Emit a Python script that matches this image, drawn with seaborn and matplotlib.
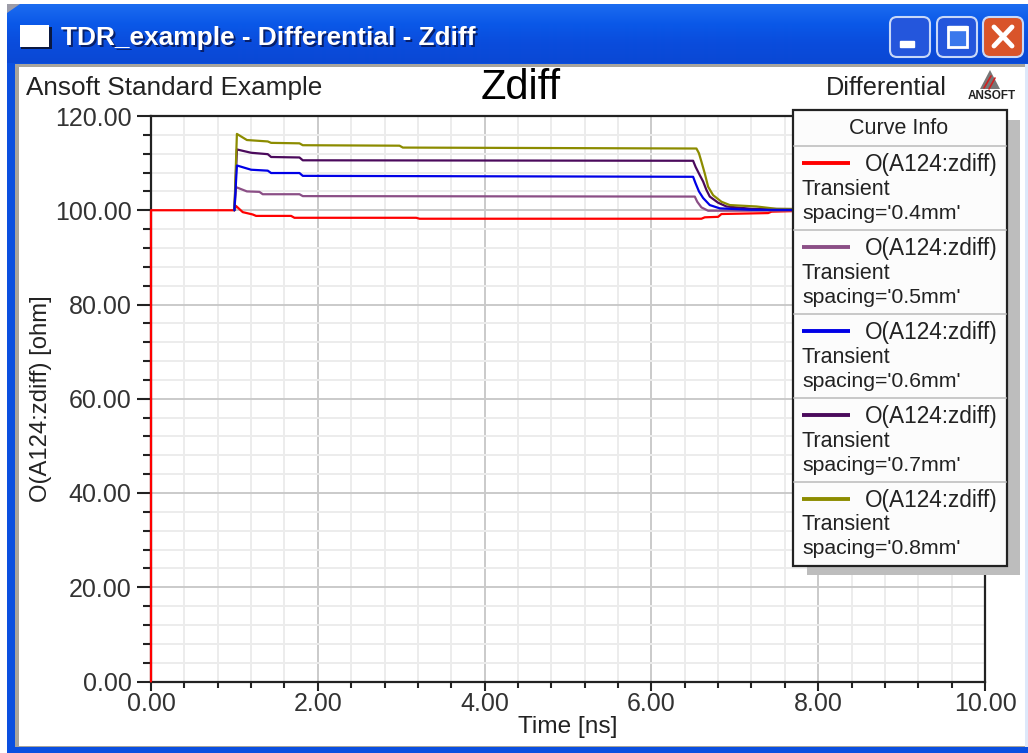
import numpy as np
import pandas as pd
import matplotlib
matplotlib.use("Agg")
import matplotlib.pyplot as plt
import seaborn as sns
from matplotlib.colors import LinearSegmentedColormap
from matplotlib.patches import Rectangle, FancyBboxPatch, Polygon

# curve data
t_04 = [0, 0, 1.0, 1.02, 1.1, 1.22, 1.26, 1.68, 1.72, 3.18, 3.22, 6.6, 6.64, 6.8, 6.84, 7.4, 7.44, 7.9, 10]
z_04 = [0, 100, 100, 100.9, 99.6, 99.1, 98.8, 98.8, 98.4, 98.4, 98.2, 98.2, 98.5, 98.6, 99.2, 99.4, 99.7, 99.9, 100]
t_05 = [1.0, 1.02, 1.15, 1.3, 1.34, 1.78, 1.82, 6.52, 6.55, 6.60, 6.68, 10]
z_05 = [100, 104.9, 104.0, 103.9, 103.4, 103.4, 103.0, 102.9, 101.8, 100.6, 99.9, 100]
t_06 = [1.0, 1.03, 1.2, 1.4, 1.44, 1.78, 1.82, 6.5, 6.53, 6.57, 6.62, 6.70, 6.82, 7.2, 10]
z_06 = [100, 109.5, 108.6, 108.4, 107.9, 107.9, 107.3, 107.1, 105.7, 104.0, 102.6, 101.1, 100.4, 100.1, 100]
t_07 = [1.0, 1.03, 1.2, 1.4, 1.44, 1.78, 1.82, 6.50, 6.53, 6.57, 6.62, 6.66, 6.70, 6.80, 6.90, 7.2, 10]
z_07 = [100, 112.9, 112.2, 111.9, 111.3, 111.2, 110.6, 110.5, 109.2, 107.8, 106.1, 104.3, 102.9, 101.6, 100.8, 100.3, 100]
t_08 = [1.0, 1.03, 1.15, 1.4, 1.44, 1.78, 1.82, 2.98, 3.02, 6.54, 6.57, 6.60, 6.64, 6.68, 6.74, 6.84, 6.94, 7.26, 7.5, 10]
z_08 = [100, 116.2, 114.9, 114.6, 114.3, 114.2, 113.8, 113.7, 113.3, 113.1, 112.1, 110.3, 107.8, 105.0, 103.2, 101.8, 101.1, 100.8, 100.3, 100]

spacings = ["0.4mm", "0.5mm", "0.6mm", "0.7mm", "0.8mm"]
curve_colors = ["#FF0000", "#8B4F86", "#0000E6", "#4B0A5C", "#8C8C00"]
draw_order = ["0.4mm", "0.5mm", "0.7mm", "0.8mm", "0.6mm"]
x_major = [0, 2, 4, 6, 8, 10]
y_major = [0, 20, 40, 60, 80, 100, 120]

W, H = 1028, 753

sns.set_theme(style="white")
plt.rcParams["font.family"] = ["Liberation Sans", "DejaVu Sans"]

frames = []
for s, t, z in zip(spacings, [t_04, t_05, t_06, t_07, t_08], [z_04, z_05, z_06, z_07, z_08]):
    frames.append(pd.DataFrame({"time": t, "zdiff": z, "spacing": s}))
df = pd.concat(frames, ignore_index=True)

fig = plt.figure(figsize=(W / 100, H / 100), dpi=100, facecolor="white")

# background layer in pixel coordinates: the window around the chart
bg = fig.add_axes([0, 0, 1, 1], zorder=0)
bg.axis("off")
bar_cmap = LinearSegmentedColormap.from_list("bar", ["#1C6CF0", "#0A58E8", "#0A4CDC", "#0A48D4"])
bg.imshow(np.linspace(0, 1, 60).reshape(-1, 1), extent=(7, W, 64, 4), cmap=bar_cmap, aspect="auto", zorder=1)
bg.set_xlim(0, W)
bg.set_ylim(H, 0)
bg.add_patch(Polygon([[7, 4], [20, 4], [7, 13]], fc="#9C9CA8", ec="none", zorder=2))
bg.add_patch(Rectangle((7, 63), W - 7, H - 63, fc="#0A4FE0", ec="none", zorder=1))
bg.add_patch(Rectangle((1025, 64), 3, 683, fc="#DDE8FA", ec="none", zorder=2))
bg.add_patch(Rectangle((15, 64), 1010, 683, fc="#A8A49C", ec="none", zorder=2))
bg.add_patch(Rectangle((19, 67), 1006, 679, fc="white", ec="none", zorder=3))

# window icon and title
bg.add_patch(Rectangle((21, 27), 31, 22, fc="#0A1840", ec="none", zorder=4))
bg.add_patch(Rectangle((20, 25), 29, 22, fc="white", ec="none", zorder=5))
for off, col, z in [(2, "#08206A", 5), (0, "white", 6)]:
    bg.text(61 + off, 38 + off, "TDR_example - Differential - Zdiff", color=col, fontsize=18.9,
            fontweight="bold", va="center", ha="left", zorder=z)

# window buttons
for bx, col in [(890, "#2456DC"), (937, "#2456DC"), (983, "#D9542A")]:
    bg.add_patch(FancyBboxPatch((bx, 17), 40, 40, boxstyle="round,pad=0,rounding_size=7",
                                fc=col, ec="#C8D8F8", lw=1.5, zorder=5))
bg.add_patch(Rectangle((900, 41), 14, 6, fc="white", zorder=6))
bg.add_patch(Rectangle((948, 27), 19, 20, fc="#3A78EC", ec="white", lw=2, zorder=6))
bg.add_patch(Rectangle((948, 26), 19, 4, fc="white", zorder=6))
bg.plot([994, 1012], [27, 46], color="white", lw=3.5, zorder=6)
bg.plot([994, 1012], [46, 27], color="white", lw=3.5, zorder=6)

# chart header texts
bg.text(26, 88, "Ansoft Standard Example", fontsize=18.8, color="#222222", va="center", ha="left", zorder=6)
bg.text(521, 88, "Zdiff", fontsize=30, color="black", va="center", ha="center", zorder=6)
bg.text(826, 88, "Differential", fontsize=18.2, color="#222222", va="center", ha="left", zorder=6)

# ansoft logo
bg.add_patch(Polygon([[990, 70], [980, 89], [1000, 89]], fc="#777777", ec="none", zorder=6))
bg.plot([984, 991], [88, 76], color="#D02020", lw=1.2, zorder=7)
bg.plot([989, 995], [89, 78], color="#D02020", lw=1.2, zorder=7)
bg.text(992, 96, "ANSOFT", fontsize=8.5, fontweight="bold", color="#222222", va="center", ha="center", zorder=7)

# main chart
x0, x1, y_top, y_bot = 151, 985, 116, 681.5
ax = fig.add_axes([x0 / W, 1 - y_bot / H, (x1 - x0) / W, (y_bot - y_top) / H], zorder=1)
ax.patch.set_alpha(0)
sns.lineplot(data=df, x="time", y="zdiff", hue="spacing", hue_order=draw_order,
             palette=dict(zip(spacings, curve_colors)), units="spacing", estimator=None, sort=False,
             lw=1.6, legend=False, ax=ax, zorder=3, clip_on=False)
ax.set_xlim(0, 10)
ax.set_ylim(0, 120)
ax.set_xticks(x_major)
ax.set_xticklabels([f"{v:.2f}" for v in x_major])
ax.set_yticks(y_major)
ax.set_yticklabels([f"{v:.2f}" for v in y_major])
ax.set_xticks(np.arange(0, 10.01, 0.4), minor=True)
ax.set_yticks(np.arange(0, 120.01, 4), minor=True)
ax.grid(True, which="minor", color="#ECECEC", lw=1.4)
ax.grid(True, which="major", color="#CACACA", lw=1.4)
ax.set_axisbelow(True)
ax.tick_params(axis="both", which="major", length=10, width=1.5, color="#222222", labelsize=18,
               labelcolor="#333333", bottom=True, left=True, pad=4)
ax.tick_params(axis="x", which="major", length=6.5, pad=1)
ax.tick_params(axis="x", which="minor", length=4, width=1.5, color="#222222", bottom=True)
ax.tick_params(axis="y", which="minor", length=6, width=1.5, color="#222222", left=True)
for side in ax.spines:
    ax.spines[side].set_color("#222222")
    ax.spines[side].set_linewidth(1.6)
ax.set_xlabel("Time [ns]", fontsize=17.6, color="#222222", labelpad=0)
ax.set_ylabel("O(A124:zdiff) [ohm]", fontsize=17.2, color="#222222", labelpad=2)

# curve info box, drawn above the chart
fg = fig.add_axes([0, 0, 1, 1], zorder=2)
fg.set_xlim(0, W)
fg.set_ylim(H, 0)
fg.axis("off")
fg.add_patch(Rectangle((807, 120), 213, 455, fc="#BDBDBD", ec="none", zorder=1))
fg.add_patch(Rectangle((793, 110), 214, 456, fc="#FCFCFC", ec="#222222", lw=1.6, zorder=2))
fg.text(899, 128, "Curve Info", fontsize=15.5, color="#222222", va="center", ha="center", zorder=3)
for i, (s, c) in enumerate(zip(spacings, curve_colors)):
    y = 146 + i * 84
    fg.plot([794, 1006], [y, y], color="#C4C4C4", lw=1.3, zorder=3)
    fg.plot([802, 850], [y + 17, y + 17], color=c, lw=2.8, solid_capstyle="butt", zorder=3)
    fg.text(998, y + 18, "O(A124:zdiff)", fontsize=16.3, color="#222222", va="center", ha="right", zorder=3)
    fg.text(802, y + 43, "Transient", fontsize=15.5, color="#222222", va="center", ha="left", zorder=3)
    fg.text(802, y + 67, f"spacing='{s}'", fontsize=15.3, color="#222222", va="center", ha="left", zorder=3)

fig.savefig("out.png", dpi=100)
